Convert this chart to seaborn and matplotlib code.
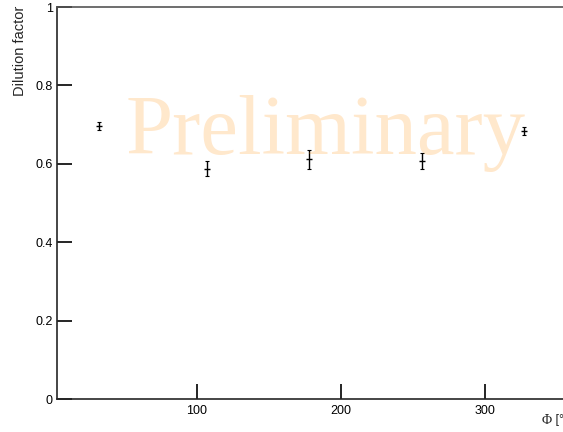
import numpy as np
import pandas as pd
import seaborn as sns
import matplotlib.pyplot as plt

phi = [32, 107, 178, 256, 327]
dilution = [0.696, 0.588, 0.612, 0.607, 0.684]
dilution_err = [0.010, 0.019, 0.024, 0.021, 0.011]

df = pd.DataFrame({'phi': phi, 'dilution': dilution, 'err': dilution_err})

sns.set_style('ticks')
plt.rcParams['font.family'] = ['Liberation Sans', 'DejaVu Sans']

fig = plt.figure(figsize=(5.63, 4.32), dpi=100)
# axis range 2.8..360 deg, the right edge runs past the picture
ax = fig.add_axes([57 / 563, 33 / 432, 514.4 / 563, 392 / 432])

ax.errorbar(df['phi'], df['dilution'], yerr=df['err'], fmt='none',
            ecolor='black', elinewidth=1.0, capsize=1.2, capthick=0.8)
sns.scatterplot(data=df, x='phi', y='dilution', marker='_', s=14,
                color='black', linewidth=1.0, ax=ax, zorder=3)

ax.set_xlim(2.8, 360)
ax.set_ylim(0, 1)
ax.set_xticks([100, 200, 300])
ax.set_yticks([0, 0.2, 0.4, 0.6, 0.8, 1])
ax.set_yticklabels(['0', '0.2', '0.4', '0.6', '0.8', '1'])
ax.tick_params(axis='both', direction='in', length=10.5, width=1.2,
               labelsize=9, colors='black')
ax.tick_params(axis='y', pad=3)
ax.tick_params(axis='x', pad=4)
for s in ax.spines.values():
    s.set_linewidth(1.2)
ax.spines['top'].set_color('#555555')
ax.spines['right'].set_visible(False)

ax.set_xlabel('')
ax.set_ylabel('')
fig.text(13 / 563, 1 - 6 / 432, 'Dilution factor', rotation=90, ha='left',
         va='top', fontsize=10.5)
fig.text(542 / 563, 1 - 420 / 432, 'Φ', family='Liberation Serif',
         ha='left', va='center', fontsize=10)
fig.text(552 / 563, 1 - 420 / 432, ' [°]', ha='left', va='center',
         fontsize=9)

ax.text(189, 0.625, 'Preliminary', family='Liberation Serif', fontsize=61,
        color='darkorange', alpha=0.2, ha='center', va='baseline', zorder=5)

fig.savefig('out.png', dpi=100)
